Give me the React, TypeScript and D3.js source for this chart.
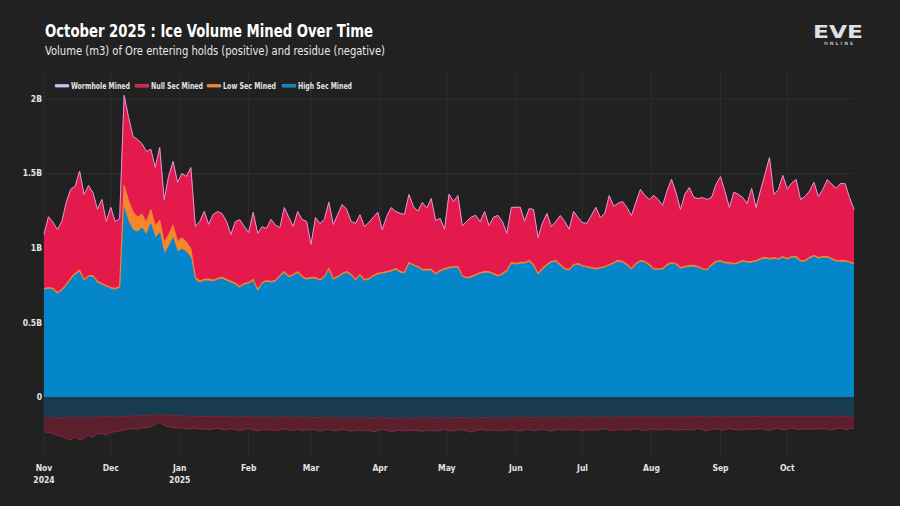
import React from 'react';
import * as d3 from 'd3';

// daily-ish samples (every 2 days) from 1 Nov 2024, values in millions of m3
const START = new Date(2024, 10, 1);
const END = new Date(2025, 9, 31);
const STEP_DAYS = 2;

const HIGH_SEC = [
  718, 725, 718, 691, 711, 745, 785, 819, 839, 778,
  805, 805, 765, 752, 738, 725, 718, 731, 1268, 1174,
  1121, 1107, 1134, 1087, 1161, 1067, 1101, 960, 1007, 1067,
  973, 993, 973, 933, 785, 765, 778, 778, 772, 785,
  792, 778, 765, 752, 731, 752, 758, 778, 711, 758,
  772, 765, 772, 805, 832, 799, 812, 832, 799, 785,
  792, 792, 778, 799, 852, 785, 799, 819, 832, 812,
  778, 812, 778, 785, 805, 819, 825, 832, 839, 852,
  832, 825, 893, 879, 866, 846, 846, 846, 819, 839,
  852, 859, 866, 866, 805, 792, 799, 812, 825, 832,
  832, 819, 805, 819, 839, 893, 886, 893, 893, 906,
  879, 819, 852, 879, 899, 906, 879, 852, 846, 879,
  886, 872, 866, 859, 852, 859, 866, 879, 893, 906,
  899, 879, 852, 886, 906, 899, 879, 852, 852, 852,
  879, 893, 886, 859, 866, 872, 872, 866, 852, 846,
  879, 899, 906, 893, 893, 886, 893, 906, 899, 899,
  906, 919, 926, 919, 926, 919, 933, 919, 933, 933,
  906, 906, 926, 940, 926, 933, 933, 919, 906, 906,
  906, 899, 886,
];

const LOW_SEC = [
  10, 9, 11, 10, 10, 11, 12, 10, 11, 10,
  9, 10, 11, 10, 9, 10, 11, 10, 150, 140,
  120, 100, 90, 85, 95, 80, 85, 75, 80, 85,
  70, 75, 65, 60, 20, 12, 12, 13, 12, 12,
  11, 12, 12, 11, 10, 9, 10, 11, 10, 9,
  10, 10, 11, 9, 10, 11, 10, 9, 10, 10,
  11, 10, 9, 10, 11, 10, 10, 9, 10, 11,
  10, 10, 9, 10, 10, 11, 10, 10, 9, 10,
  11, 10, 10, 9, 10, 10, 11, 10, 9, 10,
  10, 11, 10, 10, 9, 10, 11, 10, 10, 10,
  9, 10, 11, 10, 10, 9, 10, 11, 10, 10,
  9, 10, 11, 10, 10, 10, 9, 10, 11, 10,
  10, 9, 10, 10, 11, 10, 10, 9, 10, 11,
  10, 10, 9, 10, 10, 11, 10, 10, 9, 10,
  11, 10, 10, 9, 10, 10, 11, 10, 9, 10,
  10, 11, 10, 10, 9, 10, 11, 10, 10, 10,
  9, 10, 11, 10, 10, 9, 10, 11, 10, 10,
  9, 10, 11, 10, 10, 10, 9, 10, 11, 10,
  10, 9, 10,
];

const NULL_SEC = [
  359, 473, 440, 419, 453, 547, 594, 581, 661, 567,
  601, 554, 480, 560, 426, 534, 446, 453, 602, 558,
  504, 517, 474, 472, 402, 390, 485, 287, 390, 425,
  393, 428, 438, 544, 336, 397, 451, 364, 438, 444,
  424, 384, 310, 411, 446, 379, 332, 446, 373, 373,
  346, 413, 366, 319, 426, 393, 319, 399, 379, 379,
  218, 399, 373, 379, 440, 359, 413, 460, 413, 352,
  373, 399, 352, 373, 386, 406, 285, 366, 419, 379,
  386, 386, 453, 386, 366, 446, 406, 473, 352, 346,
  258, 487, 433, 473, 332, 373, 393, 393, 339, 399,
  305, 373, 399, 346, 245, 366, 373, 366, 272, 346,
  366, 238, 299, 339, 232, 258, 326, 312, 265, 352,
  305, 285, 285, 346, 406, 332, 352, 460, 373, 379,
  399, 379, 352, 406, 473, 440, 433, 487, 460, 419,
  490, 554, 473, 386, 480, 520, 453, 453, 473, 466,
  446, 513, 560, 473, 366, 473, 453, 419, 386, 487,
  352, 453, 554, 675, 419, 460, 540, 460, 490, 513,
  406, 426, 440, 487, 406, 446, 513, 493, 480, 513,
  513, 426, 359,
];

const WORMHOLE = [
  4, 3, 4, 5, 4, 4, 3, 4, 5, 4,
  4, 3, 4, 4, 5, 4, 3, 4, 5, 4,
  4, 4, 3, 4, 5, 4, 4, 3, 4, 4,
  5, 4, 4, 3, 4, 4, 5, 4, 3, 4,
  4, 5, 4, 4, 3, 4, 4, 5, 4, 3,
  4, 4, 5, 4, 4, 3, 4, 5, 4, 4,
  3, 4, 4, 5, 4, 4, 3, 4, 5, 4,
  4, 3, 4, 4, 5, 4, 3, 4, 4, 5,
  4, 4, 3, 4, 5, 4, 4, 3, 4, 4,
  5, 4, 3, 4, 4, 5, 4, 4, 3, 4,
  4, 5, 4, 3, 4, 4, 5, 4, 4, 3,
  4, 4, 5, 4, 3, 4, 4, 5, 4, 4,
  3, 4, 5, 4, 4, 3, 4, 4, 5, 4,
  4, 3, 4, 5, 4, 4, 3, 4, 4, 5,
  4, 4, 3, 4, 5, 4, 4, 3, 4, 4,
  5, 4, 3, 4, 4, 5, 4, 4, 3, 4,
  4, 5, 4, 3, 4, 4, 5, 4, 4, 3,
  4, 4, 5, 4, 3, 4, 4, 5, 4, 4,
  3, 4, 4,
];

// residue (negative side)
const HIGH_RESIDUE = [
  -138, -140, -139, -141, -140, -138, -137, -136, -135, -136,
  -137, -135, -134, -133, -132, -131, -133, -132, -130, -128,
  -127, -126, -125, -124, -122, -120, -116, -120, -122, -123,
  -125, -126, -128, -127, -128, -130, -131, -130, -129, -130,
  -131, -132, -130, -133, -134, -132, -131, -133, -135, -134,
  -133, -135, -136, -134, -133, -135, -137, -136, -134, -135,
  -136, -138, -137, -135, -136, -138, -139, -137, -136, -138,
  -140, -139, -138, -140, -141, -139, -138, -140, -141, -142,
  -140, -139, -141, -142, -140, -138, -139, -141, -140, -139,
  -138, -140, -139, -137, -138, -140, -141, -139, -138, -137,
  -138, -139, -137, -136, -138, -139, -137, -136, -135, -137,
  -138, -136, -135, -137, -138, -136, -135, -134, -136, -137,
  -135, -134, -136, -137, -135, -134, -133, -135, -136, -134,
  -133, -135, -134, -132, -133, -135, -134, -133, -132, -134,
  -135, -133, -132, -134, -135, -133, -132, -131, -133, -134,
  -132, -131, -133, -134, -132, -131, -130, -132, -133, -131,
  -130, -132, -133, -131, -130, -129, -131, -132, -130, -129,
  -128, -130, -131, -129, -128, -130, -131, -129, -128, -127,
  -129, -130, -128,
];

const NULL_RESIDUE = [
  -90, -100, -105, -115, -125, -140, -150, -130, -155, -140,
  -120, -135, -115, -110, -125, -105, -100, -95, -90, -88,
  -85, -92, -80, -84, -78, -65, -55, -70, -78, -82,
  -85, -80, -88, -84, -80, -86, -82, -90, -85, -80,
  -84, -88, -82, -86, -90, -84, -80, -87, -92, -85,
  -82, -86, -90, -84, -80, -88, -85, -82, -90, -86,
  -80, -84, -92, -86, -82, -88, -84, -80, -86, -90,
  -85, -82, -88, -84, -92, -86, -80, -84, -90, -85,
  -82, -88, -84, -80, -86, -92, -85, -82, -88, -84,
  -80, -86, -90, -84, -82, -88, -94, -86, -80, -84,
  -88, -82, -86, -90, -84, -80, -86, -92, -85, -82,
  -88, -84, -80, -86, -90, -84, -82, -88, -85, -80,
  -86, -92, -84, -82, -88, -84, -80, -86, -90, -84,
  -82, -88, -85, -80, -86, -92, -84, -82, -88, -84,
  -80, -86, -90, -84, -82, -88, -85, -80, -86, -92,
  -84, -82, -88, -84, -80, -86, -90, -84, -82, -88,
  -85, -80, -86, -92, -84, -82, -88, -84, -80, -86,
  -90, -84, -82, -88, -85, -80, -86, -92, -84, -82,
  -88, -84, -80,
];

const Y_TICKS = [0, 500, 1000, 1500, 2000];
const Y_LABELS = ['0', '0.5B', '1B', '1.5B', '2B'];
const X_TICKS = [
  new Date(2024, 10, 1), new Date(2024, 11, 1), new Date(2025, 0, 1), new Date(2025, 1, 1),
  new Date(2025, 2, 1), new Date(2025, 3, 1), new Date(2025, 4, 1), new Date(2025, 5, 1),
  new Date(2025, 6, 1), new Date(2025, 7, 1), new Date(2025, 8, 1), new Date(2025, 9, 1),
];
const X_LABELS = ['Nov|2024', 'Dec', 'Jan|2025', 'Feb', 'Mar', 'Apr', 'May', 'Jun', 'Jul', 'Aug', 'Sep', 'Oct'];

const LEGEND = [
  { name: 'Wormhole Mined', color: '#d9b9f5', x: 55, w: 59 },
  { name: 'Null Sec Mined', color: '#e31a4b', x: 135, w: 52 },
  { name: 'Low Sec Mined', color: '#f4862b', x: 207, w: 53 },
  { name: 'High Sec Mined', color: '#0586cb', x: 282, w: 54 },
];

const COLORS: Record<string, { fill: string; line: string }> = {
  high: { fill: '#0586cb', line: '#0a8ad0' },
  low: { fill: '#f4862b', line: '#f4862b' },
  nul: { fill: '#e31a4b', line: '#e31a4b' },
  wh: { fill: '#d9b9f5', line: '#d49ad6' },
  highRes: { fill: '#183b50', line: '#6e2a3c' },
  nullRes: { fill: '#5b1f2e', line: '#822b40' },
};

const FONT = '"DejaVu Sans Condensed", "DejaVu Sans", sans-serif';
const BG = '#212121';

const W = 900;
const H = 506;
const PL = 44;
const PR = 854;
const PT = 72;
const PB = 458;

type Row = { date: Date; [k: string]: any };

const App: React.FC = () => {
  const rows: Row[] = HIGH_SEC.map((_, i) => ({
    date: d3.timeDay.offset(START, i * STEP_DAYS),
    high: HIGH_SEC[i],
    low: LOW_SEC[i],
    nul: NULL_SEC[i],
    wh: WORMHOLE[i],
    highRes: HIGH_RESIDUE[i],
    nullRes: NULL_RESIDUE[i],
  }));

  const x = d3.scaleTime().domain([START, END]).range([PL, PR]);
  const y = d3.scaleLinear().domain([-409, 2181]).range([PB, PT]);

  const posStack = d3.stack<Row>().keys(['high', 'low', 'nul', 'wh'])(rows);
  const negStack = d3.stack<Row>().keys(['highRes', 'nullRes']).offset(d3.stackOffsetDiverging)(rows);

  const area = d3.area<any>()
    .x(d => x(d.data.date))
    .y0(d => y(d[0]))
    .y1(d => y(d[1]));
  const topLine = d3.line<any>().x(d => x(d.data.date)).y(d => y(d[1]));
  const bottomLine = d3.line<any>().x(d => x(d.data.date)).y(d => y(d[0]));

  return (
    <svg width={W} height={H} style={{ position: 'absolute', left: 0, top: 0, background: BG }} fontFamily={FONT}>
      <rect width={W} height={H} fill={BG} />

      {/* grid */}
      {X_TICKS.map((t, i) => (
        <line key={'vx' + i} x1={x(t)} x2={x(t)} y1={PT} y2={PB} stroke="#2e2e2e" strokeWidth={1} />
      ))}
      {Y_TICKS.map((t, i) => (
        <line key={'hy' + i} x1={PL} x2={PR} y1={y(t)} y2={y(t)} stroke="#2e2e2e" strokeWidth={1} />
      ))}

      {/* residue */}
      {negStack.map(s => (
        <path key={s.key} d={area(s) || undefined} fill={COLORS[s.key].fill} />
      ))}
      {negStack.map(s => (
        <path key={s.key + 'l'} d={bottomLine(s) || undefined} fill="none" stroke={COLORS[s.key].line} strokeWidth={1} />
      ))}

      {/* mined */}
      {posStack.map(s => (
        <path key={s.key} d={area(s) || undefined} fill={COLORS[s.key].fill} />
      ))}
      {posStack.map(s => (
        <path key={s.key + 'l'} d={topLine(s) || undefined} fill="none" stroke={COLORS[s.key].line}
          strokeWidth={s.key === 'low' ? 1.2 : 1} strokeLinejoin="round" />
      ))}

      {/* y axis labels */}
      {Y_TICKS.map((t, i) => (
        <text key={'yl' + i} x={42} y={y(t)} dy="0.35em" textAnchor="end" fontSize={8.5} fontWeight="bold" fill="#e4e4e4">
          {Y_LABELS[i]}
        </text>
      ))}

      {/* x axis labels */}
      {X_TICKS.map((t, i) => {
        const parts = X_LABELS[i].split('|');
        return (
          <text key={'xl' + i} x={x(t)} y={471} textAnchor="middle" fontSize={8.5} fontWeight="bold" fill="#e4e4e4">
            {parts.map((p, j) => (
              <tspan key={j} x={x(t)} dy={j === 0 ? 0 : 11.5}>{p}</tspan>
            ))}
          </text>
        );
      })}

      {/* legend */}
      {LEGEND.map(l => (
        <g key={l.name}>
          <rect x={l.x} y={84.3} width={14} height={3} rx={1} fill={l.color} stroke="#ffffff" strokeOpacity={0.35} strokeWidth={0.5} />
          <text x={l.x + 16} y={88.8} fontSize={8.5} fontWeight="bold" fill="#e4e4e4"
            textLength={l.w} lengthAdjust="spacingAndGlyphs">{l.name}</text>
        </g>
      ))}

      {/* titles */}
      <text x={45} y={36.5} fontSize={18} fontWeight="bold" fill="#ffffff" textLength={328} lengthAdjust="spacingAndGlyphs">
        October 2025 : Ice Volume Mined Over Time
      </text>
      <text x={45} y={55} fontSize={12.5} fill="#e8e8e8" textLength={340} lengthAdjust="spacingAndGlyphs">
        Volume (m3) of Ore entering holds (positive) and residue (negative)
      </text>

      {/* logo */}
      <text x={813} y={37.5} fontSize={17} fontWeight="bold" fill="#e0e0e0" fontFamily='"DejaVu Sans", sans-serif'
        textLength={50} lengthAdjust="spacingAndGlyphs">EVE</text>
      <text x={824} y={44.5} fontSize={4.5} fontWeight="bold" fill="#bdbdbd" fontFamily='"DejaVu Sans", sans-serif'
        textLength={29} lengthAdjust="spacing">ONLINE</text>
    </svg>
  );
};

export default App;
